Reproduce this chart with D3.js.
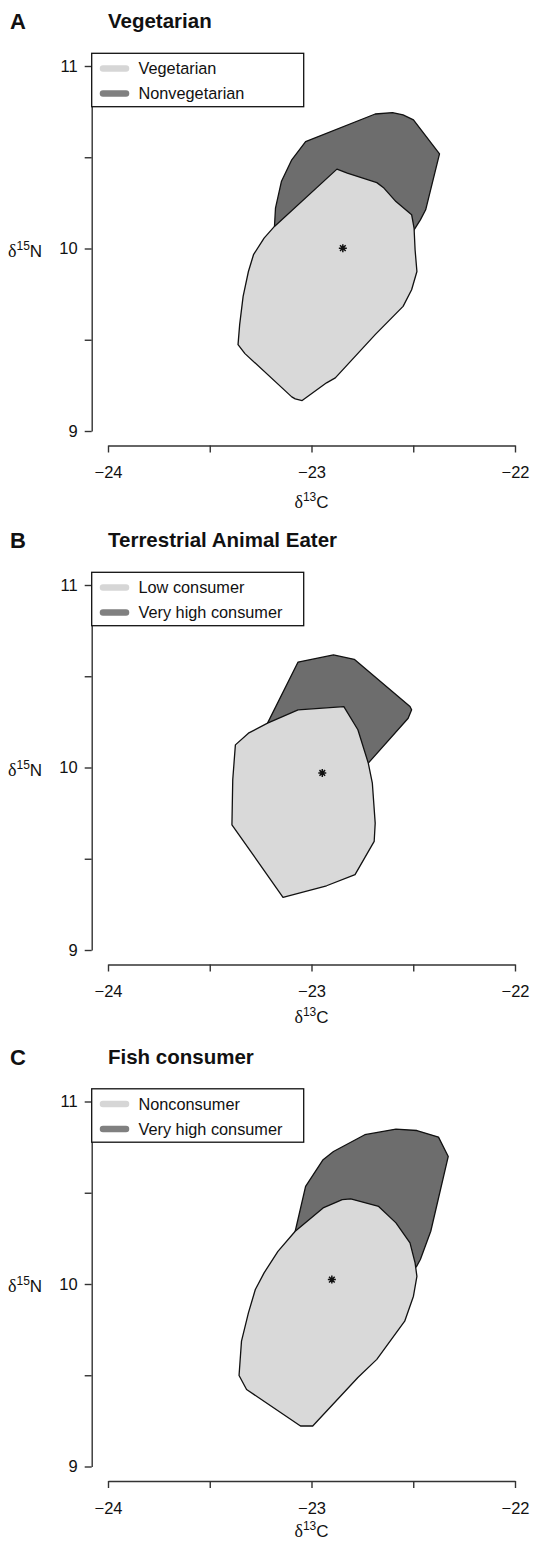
<!DOCTYPE html>
<html>
<head>
<meta charset="utf-8">
<script src="https://cdn.jsdelivr.net/npm/d3@7"></script>
<style>
  body { margin: 0; background: #fff; }
  svg { display: block; }
  text { font-family: "Liberation Sans", Arial, Helvetica, sans-serif; fill: #111; }
</style>
</head>
<body>
<div id="chart"></div>
<script>
// tick values and labels
const xTicks = [-24, -23.5, -23, -22.5, -22]
const xTickLabels = ['\u221224', '', '\u221223', '', '\u221222']
const yTicks = [9, 9.5, 10, 10.5, 11]
const yTickLabels = ['9', '', '10', '', '11']

const panelLetters = ['A', 'B', 'C']
const panelTitles = ['Vegetarian', 'Terrestrial Animal Eater', 'Fish consumer']
const legendLight = ['Vegetarian', 'Low consumer', 'Nonconsumer']
const legendDark = ['Nonvegetarian', 'Very high consumer', 'Very high consumer']

// hull outlines, [d13C, d15N]
const vegetarianHull = [
  [-23.182, 10.121], [-22.875, 10.435], [-22.824, 10.413], [-22.679, 10.361],
  [-22.644, 10.331], [-22.585, 10.257], [-22.508, 10.185], [-22.496, 10.112],
  [-22.491, 9.993], [-22.482, 9.874], [-22.508, 9.774], [-22.550, 9.683],
  [-22.687, 9.528], [-22.755, 9.446], [-22.883, 9.291], [-22.926, 9.264],
  [-23.046, 9.167], [-23.080, 9.176], [-23.097, 9.187], [-23.327, 9.424],
  [-23.361, 9.473], [-23.353, 9.583], [-23.336, 9.738], [-23.310, 9.874],
  [-23.285, 9.966], [-23.233, 10.057]
]
const nonvegetarianHull = [
  [-23.182, 10.121], [-23.177, 10.221], [-23.148, 10.367], [-23.097, 10.486],
  [-23.029, 10.586], [-22.687, 10.737], [-22.602, 10.745], [-22.550, 10.732],
  [-22.499, 10.705], [-22.371, 10.518], [-22.439, 10.212], [-22.465, 10.157],
  [-22.52, 10.06], [-23.15, 10.05]
]
const lowTerrestrialHull = [
  [-23.374, 10.124], [-23.310, 10.188], [-23.216, 10.243], [-23.066, 10.316],
  [-22.841, 10.334], [-22.772, 10.207], [-22.721, 10.024], [-22.701, 9.914],
  [-22.687, 9.695], [-22.692, 9.595], [-22.786, 9.413], [-22.926, 9.352],
  [-23.140, 9.289], [-23.391, 9.686], [-23.387, 9.933]
]
const highTerrestrialHull = [
  [-23.216, 10.243], [-23.066, 10.578], [-22.892, 10.617], [-22.790, 10.593],
  [-22.516, 10.334], [-22.508, 10.316], [-22.525, 10.270], [-22.721, 10.024],
  [-22.8, 9.95], [-23.2, 10.15]
]
const nonFishHull = [
  [-23.080, 10.289], [-22.943, 10.417], [-22.849, 10.462], [-22.807, 10.466],
  [-22.670, 10.425], [-22.585, 10.335], [-22.516, 10.225], [-22.491, 10.116],
  [-22.482, 10.042], [-22.499, 9.933], [-22.542, 9.796], [-22.679, 9.587],
  [-22.772, 9.488], [-22.994, 9.222], [-23.054, 9.222], [-23.319, 9.422],
  [-23.356, 9.499], [-23.344, 9.687], [-23.310, 9.842], [-23.276, 9.970],
  [-23.233, 10.061], [-23.165, 10.179]
]
const highFishHull = [
  [-23.080, 10.289], [-23.029, 10.535], [-22.943, 10.681], [-22.892, 10.726],
  [-22.738, 10.818], [-22.585, 10.849], [-22.482, 10.841], [-22.376, 10.805],
  [-22.328, 10.699], [-22.414, 10.289], [-22.465, 10.134], [-22.485, 10.094],
  [-22.6, 10.0], [-23.1, 10.2]
]
// overall centre marked with a star
const centres = [[-22.846, 10.002], [-22.947, 9.970], [-22.900, 10.024]]

const lightHulls = [vegetarianHull, lowTerrestrialHull, nonFishHull]
const darkHulls = [nonvegetarianHull, highTerrestrialHull, highFishHull]

const width = 545, height = 1542
const panelTops = [0, 519, 1035.5]
const xLabelBase = [508, 504, 501]
const lightFill = '#d9d9d9', darkFill = '#6d6d6d'

const svg = d3.select('#chart').append('svg')
  .attr('width', width)
  .attr('height', height)

const x = d3.scaleLinear().domain([-24, -22]).range([108, 515])
const y = d3.scaleLinear().domain([9, 11]).range([431, 66])

const line = d3.line().x(d => x(d[0])).y(d => y(d[1]))

// pch = 8 style asterisk
const asterisk = {
  draw(ctx, size) {
    const r = Math.sqrt(size) / 2
    const d = r * Math.SQRT1_2
    ctx.moveTo(-r, 0); ctx.lineTo(r, 0)
    ctx.moveTo(0, -r); ctx.lineTo(0, r)
    ctx.moveTo(-d, -d); ctx.lineTo(d, d)
    ctx.moveTo(-d, d); ctx.lineTo(d, -d)
  }
}

function deltaLabel(sel, mass, element) {
  sel.append('tspan').attr('font-family', '"Liberation Serif", "DejaVu Serif", serif')
    .attr('font-size', 18).text('\u03b4')
  sel.append('tspan').attr('font-size', 12).attr('dy', -7).text(mass)
  sel.append('tspan').attr('font-size', 17).attr('dy', 7).text(element)
}

panelTops.forEach((top, i) => {
  const g = svg.append('g').attr('transform', `translate(0,${top})`)

  g.append('text')
    .attr('x', 10).attr('y', 29)
    .attr('font-size', 22).attr('font-weight', 'bold')
    .text(panelLetters[i])

  g.append('text')
    .attr('x', 108).attr('y', 28)
    .attr('font-size', 20.5).attr('font-weight', 'bold')
    .text(panelTitles[i])

  // hulls: dark one first, light one over it
  g.append('path')
    .attr('d', line(darkHulls[i]) + 'Z')
    .attr('fill', darkFill).attr('stroke', '#111').attr('stroke-width', 1.3)
    .attr('stroke-linejoin', 'round')
  g.append('path')
    .attr('d', line(lightHulls[i]) + 'Z')
    .attr('fill', lightFill).attr('stroke', '#111').attr('stroke-width', 1.3)
    .attr('stroke-linejoin', 'round')

  g.append('path')
    .attr('d', d3.symbol(asterisk, 64)())
    .attr('transform', `translate(${x(centres[i][0])},${y(centres[i][1])})`)
    .attr('fill', 'none').attr('stroke', '#111').attr('stroke-width', 1.5)

  // axes
  const xAxis = g.append('g')
    .attr('transform', 'translate(0,445.5)')
    .call(d3.axisBottom(x).tickValues(xTicks).tickSize(7).tickSizeOuter(0).tickPadding(14)
      .tickFormat((d, j) => xTickLabels[j]))
  const yAxis = g.append('g')
    .attr('transform', 'translate(91.7,0)')
    .call(d3.axisLeft(y).tickValues(yTicks).tickSize(7).tickSizeOuter(0).tickPadding(7)
      .tickFormat((d, j) => yTickLabels[j]))

  ;[xAxis, yAxis].forEach(a => {
    a.attr('font-family', null).attr('font-size', null)
    a.selectAll('path, line').attr('stroke', '#333').attr('stroke-width', 1.4)
    a.selectAll('text').attr('font-size', 16.5).attr('fill', '#111')
  })

  g.append('text')
    .attr('x', x(-23)).attr('y', xLabelBase[i])
    .attr('text-anchor', 'middle')
    .call(deltaLabel, '13', 'C')

  g.append('text')
    .attr('x', 8).attr('y', 256.5)
    .call(deltaLabel, '15', 'N')

  // legend
  const lg = g.append('g')
  lg.append('rect')
    .attr('x', 91.7).attr('y', 53.3)
    .attr('width', 212).attr('height', 53.4)
    .attr('fill', '#fff').attr('stroke', '#111').attr('stroke-width', 1.3)
  const items = [[legendLight[i], '#d6d6d6', 68.5], [legendDark[i], '#808080', 93.5]]
  items.forEach(([label, colour, cy]) => {
    lg.append('line')
      .attr('x1', 103).attr('x2', 126)
      .attr('y1', cy).attr('y2', cy)
      .attr('stroke', colour).attr('stroke-width', 6.5).attr('stroke-linecap', 'round')
    lg.append('text')
      .attr('x', 138.5).attr('y', cy + 5.8)
      .attr('font-size', 16.3)
      .text(label)
  })
})
</script>
</body>
</html>
